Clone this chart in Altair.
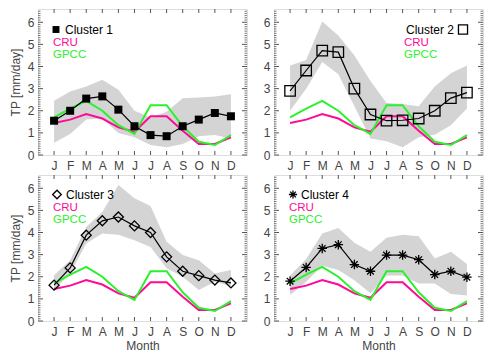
import altair as alt
import pandas as pd

months = ["J", "F", "M", "A", "M", "J", "J", "A", "S", "O", "N", "D"]
month_num = list(range(1, 13))

cru = [1.45, 1.6, 1.85, 1.65, 1.25, 1.05, 1.75, 1.75, 1.1, 0.5, 0.5, 0.8]
gpcc = [1.7, 2.1, 2.45, 2.0, 1.35, 0.95, 2.25, 2.25, 1.3, 0.6, 0.45, 0.9]

c1_mean = [1.55, 2.0, 2.55, 2.65, 2.05, 1.3, 0.9, 0.85, 1.3, 1.6, 1.9, 1.75]
c1_lo = [0.55, 0.95, 1.6, 1.65, 1.0, 0.8, 0.45, 0.35, 0.5, 0.85, 0.9, 0.75]
c1_hi = [2.45, 2.87, 3.1, 3.4, 2.95, 2.0, 1.7, 1.95, 2.57, 2.6, 2.65, 2.75]

c2_mean = [2.9, 3.82, 4.72, 4.65, 3.0, 1.83, 1.55, 1.57, 1.65, 2.0, 2.57, 2.82]
c2_lo = [2.0, 3.0, 4.2, 3.65, 2.2, 0.75, 0.62, 0.35, 0.8, 0.92, 1.35, 2.1]
c2_hi = [4.05, 4.3, 6.03, 5.4, 4.5, 3.35, 2.35, 2.3, 2.2, 3.1, 3.7, 4.05]

c3_mean = [1.62, 2.4, 3.88, 4.53, 4.7, 4.3, 4.0, 2.9, 2.25, 2.05, 1.85, 1.72]
c3_lo = [1.4, 2.15, 3.5, 3.95, 3.9, 3.65, 3.35, 2.38, 2.0, 1.4, 1.77, 1.58]
c3_hi = [2.07, 2.75, 4.25, 4.93, 6.15, 5.55, 5.2, 3.58, 2.98, 2.75, 2.15, 2.3]

c4_mean = [1.8, 2.42, 3.28, 3.45, 2.55, 2.25, 2.98, 2.98, 2.77, 2.1, 2.25, 1.98]
c4_lo = [1.18, 1.77, 2.5, 2.3, 1.84, 1.25, 2.06, 2.06, 1.7, 1.7, 1.22, 1.15]
c4_hi = [2.06, 2.8, 3.95, 4.2, 3.54, 3.13, 3.76, 3.9, 3.83, 2.83, 3.13, 2.58]

y_major = [0, 1, 2, 3, 4, 5, 6]
y_minor = [i / 10 for i in range(0, 66) if i % 10 != 0]

W, H = 209, 146
FONT = "Liberation Sans"
TXT = "#444444"
CRU_COL = "#FF0A96"
GPCC_COL = "#2CF02C"
SHADE = "#D4D4D4"
ASTERISK = "M-1,0L1,0M0,-1L0,1M-0.7,-0.7L0.7,0.7M-0.7,0.7L0.7,-0.7"

xscale = alt.Scale(domain=[0, 13], nice=False, zero=False)
yscale = alt.Scale(domain=[0, 6.6], nice=False, zero=False)
label_expr = "[" + ",".join("'%s'" % m for m in months) + "][datum.value-1]"


def X(field, xtitle):
    return alt.X(field, type="quantitative", scale=xscale, title=xtitle,
                 axis=alt.Axis(values=month_num, labelExpr=label_expr, tickSize=0,
                               labelPadding=5, domain=False, grid=False,
                               labelFontSize=12, labelColor=TXT, labelFont=FONT,
                               titleFont=FONT, titleFontSize=12, titleColor=TXT,
                               titleFontWeight="normal", titlePadding=3,
                               labelFlush=False))


def Y(field, ytitle):
    return alt.Y(field, type="quantitative", scale=yscale, title=ytitle,
                 axis=alt.Axis(values=y_major, tickSize=0, labelPadding=4,
                               domain=False, grid=False, labelFontSize=12,
                               labelColor=TXT, labelFont=FONT, titleFont=FONT,
                               titleFontSize=12, titleColor=TXT,
                               titleFontWeight="normal", titlePadding=5,
                               labelFlush=False))


def panel(mean, lo, hi, name, shape, filled, size, leg, xtitle, ytitle):
    df = pd.DataFrame({"m": month_num, "mean": mean, "lo": lo, "hi": hi,
                       "cru": cru, "gpcc": gpcc})
    base = alt.Chart(df)
    area = base.mark_area(color=SHADE, opacity=1).encode(
        x=X("m", xtitle), y=Y("lo", ytitle), y2="hi")
    l_cru = base.mark_line(color=CRU_COL, strokeWidth=2).encode(
        x=X("m", xtitle), y=Y("cru", ytitle))
    l_gpcc = base.mark_line(color=GPCC_COL, strokeWidth=2).encode(
        x=X("m", xtitle), y=Y("gpcc", ytitle))
    l_mean = base.mark_line(color="black", strokeWidth=1.2).encode(
        x=X("m", xtitle), y=Y("mean", ytitle))
    pts = base.mark_point(shape=shape, filled=filled, size=size, color="black",
                          strokeWidth=1.3, opacity=1).encode(
        x=X("m", xtitle), y=Y("mean", ytitle))

    dmaj = pd.DataFrame({"v": y_major})
    dmin = pd.DataFrame({"v": y_minor})
    dmon = pd.DataFrame({"m": month_num})
    tick_col = "#555555"
    ticks = [
        alt.Chart(dmaj).mark_rule(color=tick_col, strokeWidth=1).encode(
            y=Y("v", ytitle), x=alt.value(0), x2=alt.value(5)),
        alt.Chart(dmin).mark_rule(color=tick_col, strokeWidth=0.8).encode(
            y=Y("v", ytitle), x=alt.value(0), x2=alt.value(2.5)),
        alt.Chart(dmaj).mark_rule(color=tick_col, strokeWidth=1).encode(
            y=Y("v", ytitle), x=alt.value(W), x2=alt.value(W - 5)),
        alt.Chart(dmin).mark_rule(color=tick_col, strokeWidth=0.8).encode(
            y=Y("v", ytitle), x=alt.value(W), x2=alt.value(W - 2.5)),
        alt.Chart(dmon).mark_rule(color=tick_col, strokeWidth=1).encode(
            x=X("m", xtitle), y=alt.value(H), y2=alt.value(H - 4)),
        alt.Chart(dmon).mark_rule(color=tick_col, strokeWidth=1).encode(
            x=X("m", xtitle), y=alt.value(0), y2=alt.value(4)),
    ]

    one = pd.DataFrame({"a": [0]})
    sx, tx, ty, lx, cru_y, gp_y = leg
    leg_layers = [
        alt.Chart(one).mark_point(shape=shape, filled=filled,
                                  size=size * 0.75, color="black",
                                  strokeWidth=1.3, opacity=1).encode(
            x=alt.value(sx), y=alt.value(ty)),
        alt.Chart(one).mark_text(text=name, align="left", baseline="middle",
                                 font=FONT, fontSize=12, color="black").encode(
            x=alt.value(tx), y=alt.value(ty)),
        alt.Chart(one).mark_text(text="CRU", align="left", baseline="middle",
                                 font=FONT, fontSize=11.5, color=CRU_COL).encode(
            x=alt.value(lx), y=alt.value(cru_y)),
        alt.Chart(one).mark_text(text="GPCC", align="left", baseline="middle",
                                 font=FONT, fontSize=11.5, color=GPCC_COL).encode(
            x=alt.value(lx), y=alt.value(gp_y)),
    ]
    return alt.layer(area, l_cru, l_gpcc, l_mean, pts, *ticks, *leg_layers).properties(
        width=W, height=H)


p1 = panel(c1_mean, c1_lo, c1_hi, "Cluster  1", "square", True, 64,
           (18, 27, 20.5, 15, 33.5, 46), None, "TP [mm/day]")
p2 = panel(c2_mean, c2_lo, c2_hi, "Cluster  2", "square", False, 110,
           (189, 132, 20.5, 130, 33.5, 46), None, None)
p3 = panel(c3_mean, c3_lo, c3_hi, "Cluster  3", "diamond", False, 100,
           (19, 28, 19.5, 15, 32.5, 45), "Month", "TP [mm/day]")
p4 = panel(c4_mean, c4_lo, c4_hi, "Cluster  4", ASTERISK, False, 90,
           (19, 27, 19.5, 15, 32.5, 45), "Month", None)

chart = alt.concat(p1, p2, p3, p4, columns=2,
                   spacing={"row": 20, "column": 27}, bounds="flush").properties(
    padding=0
).configure_view(stroke="#444444", strokeWidth=1).configure(background="white")

chart.save("out.html", embed_options={"renderer": "svg", "actions": False})
